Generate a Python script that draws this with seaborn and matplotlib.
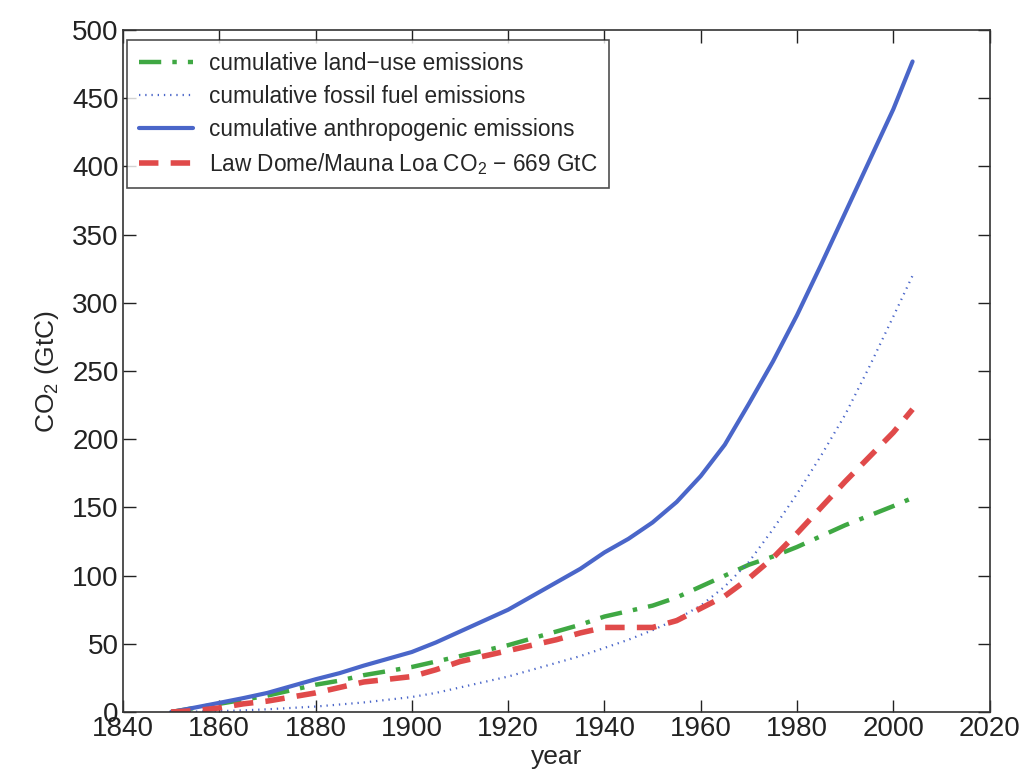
"""Cumulative CO2 emissions vs. Law Dome / Mauna Loa atmospheric increase."""

import matplotlib

matplotlib.use("Agg")
import matplotlib.pyplot as plt
import pandas as pd
import seaborn as sns

YEARS = [1850, 1855, 1860, 1865, 1870, 1875, 1880, 1885, 1890, 1895, 1900,
         1905, 1910, 1915, 1920, 1925, 1930, 1935, 1940, 1945, 1950, 1955,
         1960, 1965, 1970, 1975, 1980, 1985, 1990, 1995, 2000, 2004]

LAND_USE = [0, 3, 6, 9, 12, 16, 20, 23, 27, 30, 33, 37, 41, 45, 49, 54, 59,
            64, 70, 74, 78, 84, 92, 100, 108, 114, 121, 129, 137, 144, 151, 157]
FOSSIL = [0, 0.3, 0.7, 1.2, 2, 3, 4, 5.5, 7, 9, 11, 14, 18, 22, 26, 31, 36,
          41, 47, 53, 60, 68, 78, 92, 110, 134, 160, 188, 218, 253, 290, 320]
ANTHRO = [0, 3.3, 6.7, 10.2, 14, 19, 24, 28.5, 34, 39, 44, 51, 59, 67, 75,
          85, 95, 105, 117, 127, 139, 154, 173, 196, 226, 257, 291, 328, 366,
          404, 442, 477]
LAW_DOME = [0, 1, 3, 6, 8, 11, 14, 18, 22, 24, 26, 31, 37, 41, 45, 49, 53,
            58, 62, 62, 62, 67, 76, 85, 98, 113, 131, 150, 169, 187, 205, 222]

LABELS = [
    "cumulative land\u2212use emissions",
    "cumulative fossil fuel emissions",
    "cumulative anthropogenic emissions",
    "Law Dome/Mauna Loa CO$_2$ \u2212 669 GtC",
]

table = pd.DataFrame({
    "year": YEARS,
    LABELS[0]: LAND_USE,
    LABELS[1]: FOSSIL,
    LABELS[2]: ANTHRO,
    LABELS[3]: LAW_DOME,
})

STYLES = {
    LABELS[0]: dict(color="#3fa843", linestyle=(0, (5, 2.5, 1, 2.5)), linewidth=3.2),
    LABELS[1]: dict(color="#4a66c9", linestyle=(0, (0.6, 2.2)), linewidth=1.6),
    LABELS[2]: dict(color="#4a66c9", linestyle="-", linewidth=3.0),
    LABELS[3]: dict(color="#e04a4a", linestyle=(0, (3.5, 2.2)), linewidth=4.0),
}

sns.set_style("ticks")
plt.rcParams["font.family"] = ["Liberation Sans", "DejaVu Sans"]
plt.rcParams["mathtext.fontset"] = "custom"
plt.rcParams["mathtext.rm"] = "Liberation Sans"

fig = plt.figure(figsize=(10.33, 7.82), dpi=100)
axis = fig.add_axes([0.119, 0.0895, 0.839, 0.872])

for label in LABELS:
    sns.lineplot(data=table, x="year", y=label, ax=axis, label=label, **STYLES[label])

axis.set_xlim(1840, 2020)
axis.set_ylim(0, 500)
axis.set_xticks(range(1840, 2021, 20))
axis.set_yticks(range(0, 501, 50))
axis.tick_params(direction="in", top=True, right=True, length=9, width=1,
                 labelsize=20, pad=3, colors="#222222")
for spine in axis.spines.values():
    spine.set_linewidth(1.2)
    spine.set_color("#333333")
axis.set_xlabel("year", fontsize=19, labelpad=2)
axis.set_ylabel("CO$_2$ (GtC)", fontsize=19, labelpad=8)

legend = axis.legend(loc="upper left", bbox_to_anchor=(0.005, 0.985), fontsize=16.3,
                     frameon=True, fancybox=False, edgecolor="#222222",
                     handlelength=2.4, handletextpad=0.7, labelspacing=0.45,
                     borderpad=0.5, borderaxespad=0)
legend.get_frame().set_linewidth(1.2)

fig.savefig("out.png", dpi=100, facecolor="white")
